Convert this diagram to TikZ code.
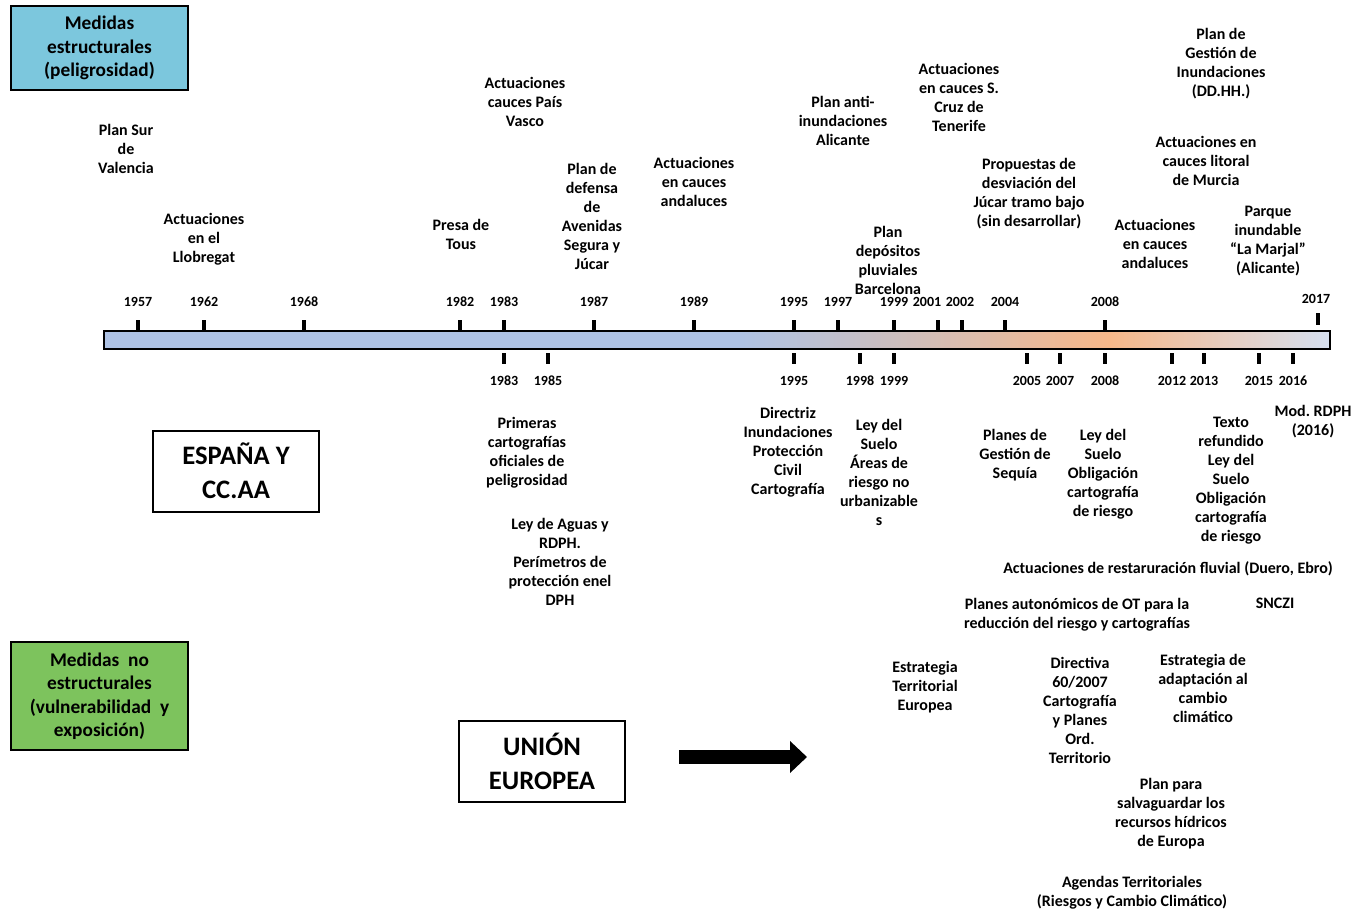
\documentclass[tikz,border=0pt]{standalone}
\usepackage{fontspec}
\setmainfont{Carlito}
\usetikzlibrary{arrows.meta}
\definecolor{strucblue}{RGB}{124,199,221}
\definecolor{nonstrucgreen}{RGB}{125,195,93}
\definecolor{barblue}{RGB}{174,194,228}
\definecolor{barorange}{RGB}{247,184,137}
\definecolor{barend}{RGB}{214,224,240}
\pgfdeclarehorizontalshading{timebar}{100bp}{color(0bp)=(barblue); color(25bp)=(barblue);
  color(51bp)=(barblue); color(66bp)=(barorange); color(75bp)=(barend); color(100bp)=(barend)}
\newcommand{\lblfont}{\bfseries\fontsize{12}{14.25}\selectfont}
\newcommand{\yrfont}{\bfseries\fontsize{10.5}{12}\selectfont}
\newcommand{\boxfont}{\bfseries\fontsize{14.5}{17.6}\selectfont}
\newcommand{\regfont}{\bfseries\fontsize{20}{25.5}\selectfont}

\begin{document}
\begin{tikzpicture}[x=0.75pt,y=-0.75pt,
    lbl/.style={align=center,font=\lblfont,inner sep=0pt},
    yr/.style={font=\yrfont,inner sep=0pt},
    tick/.style={line width=2.4pt},
    catbox/.style={draw,line width=1.5pt,align=center,font=\boxfont,
      minimum width=132.75pt},
    regbox/.style={draw,line width=1.5pt,align=center,font=\regfont,
      minimum width=124.5pt,minimum height=60.75pt}]
  \useasboundingbox (0,0) rectangle (1358,913);

  % category boxes
  \node[catbox,fill=strucblue,minimum height=63pt] (struct) at (99.5,48)
    {Medidas\\estructurales\\(peligrosidad)};
  \node[catbox,fill=nonstrucgreen,minimum height=81pt] (nonstruct) at (99.5,696)
    {Medidas~ no\\estructurales\\(vulnerabilidad~ y\\exposición)};
  \node[regbox] (spain) at (236,471) {ESPAÑA Y\\CC.AA};
  \node[regbox] (eu) at (542,761) {UNIÓN\\EUROPEA};

  % timeline
  \draw[line width=1.5pt,shading=timebar] (104,331) rectangle (1330,349);
  \foreach \x/\yr in {138/1957, 204/1962, 304/1968, 460/1982, 504/1983, 594/1987,
      694/1989, 794/1995, 838/1997, 894/1999, 1005/2004, 1105/2008}
  {
    \draw[tick] (\x,320) -- (\x,330);
    \node[yr] (top\yr) at (\x,302) {\yr};
  }
  \draw[tick] (938,320) -- (938,330);
  \node[yr] (top2001) at (927,302) {2001};
  \draw[tick] (962,320) -- (962,330);
  \node[yr] (top2002) at (960,302) {2002};
  \draw[tick] (1318,313) -- (1318,325);
  \node[yr] (top2017) at (1316,299) {2017};
  \foreach \x/\yr in {504/1983, 548/1985, 794/1995, 860/1998, 894/1999, 1027/2005,
      1060/2007, 1105/2008, 1172/2012, 1204/2013, 1259/2015, 1293/2016}
  {
    \draw[tick] (\x,353) -- (\x,364);
    \node[yr] (bot\yr) at (\x,381) {\yr};
  }

  % structural measures (above)
  \node[lbl] (plansur) at (126,149) {Plan Sur\\de\\Valencia};
  \node[lbl] (llobregat) at (204,239) {Actuaciones\\en el\\Llobregat};
  \node[lbl] (tous) at (461,234) {Presa de\\Tous};
  \node[lbl] (vasco) at (525,102) {Actuaciones\\cauces País\\Vasco};
  \node[lbl] (segura) at (592,216) {Plan de\\defensa\\de\\Avenidas\\Segura y\\Júcar};
  \node[lbl] (andal1) at (694,182) {Actuaciones\\en cauces\\andaluces};
  \node[lbl] (alicante) at (843,121) {Plan anti-\\inundaciones\\Alicante};
  \node[lbl] (barcelona) at (888,260) {Plan\\depósitos\\pluviales\\Barcelona};
  \node[lbl] (tenerife) at (959,97) {Actuaciones\\en cauces S.\\Cruz de\\Tenerife};
  \node[lbl] (jucar) at (1029,194) {Propuestas de\\desviación del\\Júcar tramo bajo\\(sin desarrollar)};
  \node[lbl] (pgi) at (1221,64) {Plan de\\Gestión de\\Inundaciones\\(DD.HH.)};
  \node[lbl] (murcia) at (1206,161) {Actuaciones en\\cauces litoral\\de Murcia};
  \node[lbl] (andal2) at (1155,244) {Actuaciones\\en cauces\\andaluces};
  \node[lbl] (marjal) at (1268,241) {Parque\\inundable\\“La Marjal”\\(Alicante)};

  % non-structural measures (below)
  \node[lbl] (primeras) at (527,453) {Primeras\\cartografías\\oficiales de\\peligrosidad};
  \node[lbl] (aguas) at (560,562) {Ley de Aguas y\\RDPH.\\Perímetros de\\protección enel\\DPH};
  \node[lbl] (directriz) at (788,452) {Directriz\\Inundaciones\\Protección\\Civil\\Cartografía};
  \node[lbl] (suelo98) at (879,472) {Ley del\\Suelo\\Áreas de\\riesgo no\\urbanizable\\s};
  \node[lbl] (sequia) at (1015,455) {Planes de\\Gestión de\\Sequía};
  \node[lbl] (suelo08) at (1103,474) {Ley del\\Suelo\\Obligación\\cartografía\\de riesgo};
  \node[lbl] (texto) at (1231,481) {Texto\\refundido\\Ley del\\Suelo\\Obligación\\cartografía\\de riesgo};
  \node[lbl] (rdph) at (1313,422) {Mod.\ RDPH\\(2016)};
  \node[lbl] (restaur) at (1168,569) {Actuaciones de restaruración fluvial (Duero, Ebro)};
  \node[lbl] (snczi) at (1275,603) {SNCZI};
  \node[lbl] (autonom) at (1077,615) {Planes autonómicos de OT para la\\reducción del riesgo y cartografías};
  \node[lbl] (ete) at (925,687) {Estrategia\\Territorial\\Europea};
  \node[lbl] (directiva) at (1080,710) {Directiva\\60/2007\\Cartografía\\y Planes\\Ord.\\Territorio};
  \node[lbl] (adapt) at (1203,688) {Estrategia de\\adaptación al\\cambio\\climático};
  \node[lbl] (salvag) at (1171,814) {Plan para\\salvaguardar los\\recursos hídricos\\de Europa};
  \node[lbl] (agendas) at (1132,893) {Agendas Territoriales\\(Riesgos y Cambio Climático)};

  % arrow from the EU box
  \coordinate (arrS) at (679,757);
  \coordinate (arrE) at (807,757);
  \draw[line width=11pt,-{Triangle[length=12.75pt,width=23.25pt]}] (arrS) -- (arrE);
\end{tikzpicture}
\end{document}
